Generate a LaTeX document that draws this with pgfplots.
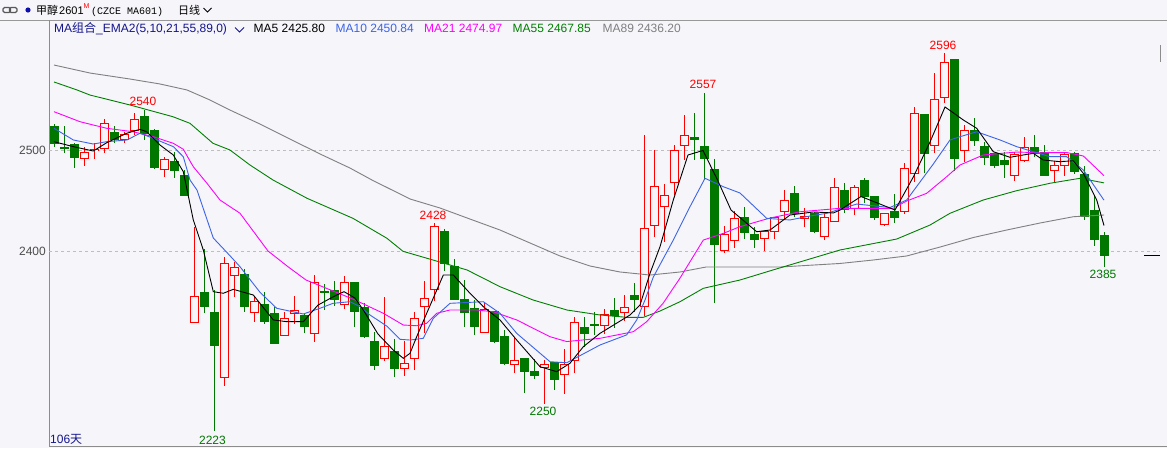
\documentclass[border=0pt]{standalone}
\usepackage{pgfplots}
\pgfplotsset{compat=1.18}
\usepackage{pgfplotstable}
\usepackage{fontspec}
\setmainfont{Liberation Sans}
\newfontfamily\cjk{Noto Sans CJK SC}
\newfontfamily\monof{Liberation Mono}
\newcommand\lbl{\fontsize{12}{14}\selectfont}
\definecolor{bgc}{RGB}{245,245,250}
\definecolor{cred}{RGB}{255,0,0}
\definecolor{cgreen}{RGB}{0,120,0}
\definecolor{ma10c}{RGB}{60,100,230}
\definecolor{ma21c}{RGB}{255,0,255}
\definecolor{ma55c}{RGB}{0,128,0}
\definecolor{ma89c}{RGB}{128,128,128}
\definecolor{navyc}{RGB}{20,20,140}
\definecolor{gridc}{RGB}{190,190,190}
\definecolor{framec}{RGB}{140,140,140}

\pgfplotstableread{
i o h l c
3 2492.1 2503.0 2484.5 2498.3
4 2499.3 2506.9 2491.1 2501.0
5 2502.0 2530.6 2497.0 2526.6
7 2510.2 2517.8 2507.0 2515.8
8 2519.3 2536.5 2515.1 2530.6
11 2481.3 2493.7 2473.4 2491.1
14 2330.4 2424.7 2330.4 2355.6
17 2276.0 2395.0 2267.9 2388.6
18 2376.7 2390.1 2355.6 2384.6
20 2340.2 2355.0 2331.0 2351.1
23 2316.9 2340.8 2316.9 2334.3
24 2338.6 2356.3 2328.7 2341.8
26 2319.5 2377.0 2311.2 2369.8
29 2348.1 2376.0 2343.2 2369.8
33 2294.9 2355.0 2292.5 2307.0
35 2285.0 2312.2 2277.7 2290.0
36 2294.9 2340.8 2283.3 2334.3
37 2345.8 2371.4 2319.5 2354.0
38 2362.9 2428.0 2351.7 2425.3
43 2320.1 2349.7 2319.5 2343.2
46 2288.9 2316.2 2280.7 2293.2
49 2285.6 2293.2 2250.0 2288.9
51 2279.1 2304.0 2259.4 2289.2
52 2292.5 2335.3 2280.7 2330.4
55 2327.4 2343.2 2318.8 2338.3
57 2340.2 2357.3 2332.0 2344.8
59 2345.8 2515.1 2336.6 2423.1
60 2425.3 2500.3 2414.2 2464.8
61 2444.4 2466.8 2409.9 2456.0
62 2468.4 2505.2 2455.9 2500.3
63 2504.9 2534.8 2490.4 2515.1
67 2401.0 2425.6 2399.0 2417.2
68 2410.9 2440.1 2403.4 2432.9
71 2413.2 2420.4 2400.7 2420.4
72 2419.7 2434.5 2412.5 2433.9
73 2439.4 2460.8 2432.0 2451.0
75 2432.9 2442.8 2424.7 2435.2
77 2414.8 2437.9 2411.5 2433.9
78 2429.6 2472.4 2429.6 2463.5
80 2442.8 2465.8 2436.2 2463.5
83 2426.3 2437.9 2425.6 2437.9
85 2439.4 2487.2 2437.2 2482.2
86 2477.3 2543.0 2469.0 2536.5
88 2504.2 2576.0 2497.0 2550.3
89 2552.3 2596.0 2546.4 2586.8
91 2499.6 2525.0 2488.8 2520.0
96 2475.0 2498.6 2470.0 2496.4
97 2489.7 2512.8 2488.2 2503.0
100 2479.9 2489.7 2468.0 2485.5
101 2484.8 2498.6 2475.0 2496.4
}\redtab

\pgfplotstableread{
i o h l c
0 2523.3 2526.0 2503.6 2506.9
1 2502.9 2523.9 2497.6 2501.6
2 2506.2 2507.0 2482.8 2492.7
6 2517.8 2524.0 2506.9 2510.2
9 2533.8 2540.0 2510.2 2516.8
10 2520.0 2521.0 2481.6 2482.8
12 2488.8 2498.6 2472.4 2479.9
13 2475.6 2480.6 2454.9 2455.9
15 2360.0 2402.4 2339.8 2345.8
16 2340.2 2362.2 2223.0 2307.3
19 2378.0 2382.6 2340.8 2345.8
21 2348.4 2360.0 2328.7 2331.0
22 2339.3 2345.8 2309.7 2309.7
25 2336.6 2339.3 2320.1 2326.0
27 2361.2 2368.2 2342.5 2359.6
28 2362.2 2371.1 2346.4 2353.1
30 2369.8 2369.8 2326.0 2340.8
31 2344.8 2349.1 2314.6 2316.2
32 2311.9 2321.1 2283.3 2287.6
34 2302.0 2313.6 2276.0 2284.6
39 2419.7 2422.0 2381.3 2388.6
40 2385.2 2392.5 2352.4 2352.4
41 2352.4 2372.1 2326.0 2339.8
42 2344.2 2352.4 2317.9 2326.0
44 2340.8 2341.5 2310.2 2311.2
45 2316.2 2322.8 2288.3 2290.0
47 2294.9 2294.9 2260.4 2281.7
48 2282.3 2293.9 2274.0 2278.4
50 2290.5 2290.9 2264.0 2274.4
53 2325.0 2335.3 2306.3 2319.5
54 2328.7 2340.8 2317.9 2327.0
56 2342.5 2354.0 2324.5 2337.6
58 2356.6 2368.8 2340.8 2352.4
64 2512.8 2536.5 2490.4 2510.2
65 2504.2 2557.0 2470.7 2492.1
66 2480.6 2491.4 2349.7 2407.3
69 2433.5 2444.4 2412.2 2418.7
70 2416.5 2424.7 2404.0 2412.5
74 2457.6 2465.1 2434.5 2437.9
76 2437.2 2439.4 2418.7 2419.7
79 2460.8 2467.5 2438.5 2441.8
81 2470.7 2473.0 2447.7 2454.9
82 2454.2 2454.2 2431.3 2433.9
84 2439.4 2456.9 2428.0 2433.9
87 2535.8 2535.8 2477.3 2497.0
90 2590.0 2590.0 2479.9 2492.1
92 2520.0 2531.9 2504.2 2509.5
93 2503.6 2508.5 2485.5 2493.1
94 2497.0 2497.0 2482.2 2484.8
95 2490.4 2498.6 2472.4 2486.5
98 2503.0 2515.1 2493.7 2497.0
99 2498.0 2505.2 2475.0 2475.0
102 2497.0 2498.0 2476.6 2478.9
103 2476.6 2484.8 2431.3 2434.5
104 2440.4 2455.9 2405.6 2412.2
105 2415.5 2419.7 2385.0 2396.0
}\greentab

\begin{document}
\begin{tikzpicture}[x=1pt,y=1pt]
\useasboundingbox (0,0) rectangle (1167,448);
\fill[bgc] (0,0) rectangle (1167,448);
\draw[gridc!80!black, line width=0.8pt] (0,428) -- (1167,428);
\draw[framec, line width=1pt] (49,1.5) -- (49,428);
\draw[framec, line width=1pt] (49,1.5) -- (1167,1.5);
\draw[framec, line width=1pt] (1160,386) -- (1160,403);

\begin{axis}[at={(49pt,2pt)}, anchor=south west, width=1111pt, height=426pt,
  scale only axis, xmin=-0.5, xmax=110.6, ymin=2208.4, ymax=2628.5,
  hide axis, clip=false]
\draw[gridc, dash pattern=on 3pt off 3pt, line width=0.8pt] (axis cs:-0.5,2500) -- (axis cs:110.6,2500);
\draw[gridc, dash pattern=on 3pt off 3pt, line width=0.8pt] (axis cs:-0.5,2400) -- (axis cs:110.6,2400);

% red wicks and bodies
\addplot[draw=none, mark=none, forget plot, error bars/.cd, y dir=both, y explicit, error mark=none,
  error bar style={line width=1pt, draw=cred}]
  table[x=i, y expr={(\thisrow{h}+\thisrow{l})/2}, y error expr={(\thisrow{h}-\thisrow{l})/2}] {\redtab};
\addplot[draw=none, mark=none, forget plot, error bars/.cd, y dir=both, y explicit, error mark=none,
  error bar style={line width=9pt, draw=cred}]
  table[x=i, y expr={(\thisrow{o}+\thisrow{c})/2}, y error expr={abs(\thisrow{c}-\thisrow{o})/2+0.3}] {\redtab};
\addplot[draw=none, mark=none, forget plot, error bars/.cd, y dir=both, y explicit, error mark=none,
  error bar style={line width=7pt, draw=bgc}]
  table[x=i, y expr={(\thisrow{o}+\thisrow{c})/2}, y error expr={max(abs(\thisrow{c}-\thisrow{o})/2-0.7,0)}] {\redtab};
% green wicks and bodies
\addplot[draw=none, mark=none, forget plot, error bars/.cd, y dir=both, y explicit, error mark=none,
  error bar style={line width=1pt, draw=cgreen}]
  table[x=i, y expr={(\thisrow{h}+\thisrow{l})/2}, y error expr={(\thisrow{h}-\thisrow{l})/2}] {\greentab};
\addplot[draw=none, mark=none, forget plot, error bars/.cd, y dir=both, y explicit, error mark=none,
  error bar style={line width=9pt, draw=cgreen}]
  table[x=i, y expr={(\thisrow{o}+\thisrow{c})/2}, y error expr={abs(\thisrow{c}-\thisrow{o})/2+0.5}] {\greentab};

% MA89
\addplot[ma89c, line width=0.9pt, mark=none] coordinates {(0,2584.1)(3.6,2576.2)(7.6,2570.3)(10.6,2565.4)(13.3,2559.5)(15.6,2549.6)(17.6,2539.7)(20.6,2525.9)(23.6,2511.1)(26.6,2496.4)(29.6,2482.5)(31.8,2470.7)(35.6,2452)(38.6,2443.1)(41.6,2432.2)(44.6,2421.4)(47.6,2408.6)(50.6,2395.8)(53.6,2385.9)(56.6,2380)(59.6,2377)(62.6,2380)(65.2,2384.9)(72.6,2384.9)(78.6,2388.4)(81.9,2391.8)(85.27,2395.8)(88.6,2404.6)(91.93,2414)(95.27,2421.4)(98.6,2428.3)(101.93,2434.5)(105,2436.2)};
% MA55
\addplot[ma55c, line width=0.9pt, mark=none] coordinates {(0,2567.4)(2.3,2559.5)(3.6,2554.5)(7.6,2544.7)(11.9,2533.1)(13.6,2526.6)(15.9,2506.9)(17.6,2500.3)(19.6,2485.5)(21.9,2470.7)(25.3,2452.7)(29.9,2432.9)(33.3,2413.2)(34.9,2400.4)(37.9,2391.8)(41.3,2382)(44.6,2365.5)(47.9,2352.4)(51.3,2342.5)(54.6,2337.6)(57.27,2335.3)(58.93,2335.3)(60.6,2341.5)(62.6,2350.7)(64.93,2363.9)(68.6,2372.1)(71.9,2382)(78.6,2401.7)(84.27,2412.5)(87.6,2426.3)(89.6,2437.9)(92.93,2451)(96.27,2460.2)(99.6,2467.5)(102.6,2472.4)(105,2467.9)};
% MA21
\addplot[ma21c, line width=0.9pt, mark=none] coordinates {(0,2538.1)(2.6,2528.2)(5.27,2521.7)(7.93,2518.3)(9.93,2513.4)(11.93,2506.9)(12.93,2501)(13.93,2483.8)(15.27,2467.8)(16.6,2451)(18.6,2437.9)(21.4,2400.7)(23.4,2385.2)(25.2,2372.1)(28.27,2359.8)(30.1,2352.4)(32.93,2339.3)(34.93,2327.7)(36.27,2327)(37.27,2329.4)(38.27,2339.3)(39.6,2342.5)(42.27,2342.5)(43.93,2340.8)(46.27,2332.7)(49.6,2316.2)(51.27,2311.4)(54.6,2314.6)(57.93,2321.1)(59.27,2331)(60.93,2349.4)(62.6,2374)(64.93,2411.5)(66.93,2418.1)(68.6,2424.7)(71.6,2433.2)(74.6,2439.4)(78.6,2442.8)(83.9,2442.8)(85.27,2450)(87.27,2457.6)(89.27,2474)(90.6,2485.5)(92.93,2495.4)(96.27,2498.3)(98.6,2497.6)(101.27,2497.8)(102.93,2494.4)(105,2475)};
% MA10
\addplot[ma10c, line width=0.9pt, mark=none] coordinates {(0,2521.7)(1.93,2510.2)(3.93,2506.2)(5.27,2508.5)(7.3,2510.2)(8.6,2516.8)(9.93,2511.8)(11.93,2503.6)(12.93,2493.7)(13.6,2470.7)(14.3,2460.8)(15.93,2413.5)(17.6,2396)(18.6,2385.2)(20.6,2360)(22.27,2344.2)(24.93,2338.6)(26.6,2344.2)(27.9,2349.1)(29.6,2350.7)(30.6,2345.8)(31.6,2337.6)(33.27,2326.7)(34.6,2313.6)(35.6,2312.9)(36.93,2314.6)(37.93,2334.3)(39.6,2349.1)(42.93,2350.7)(44.6,2339.3)(46.27,2319.5)(49.6,2291.5)(51.27,2290.5)(54.6,2308)(57.27,2318)(58.27,2332.7)(59.1,2352.4)(59.93,2375)(61.93,2411.5)(63.6,2444.4)(65.1,2472.4)(66.93,2464.1)(68.6,2457.9)(71.27,2432.9)(73.6,2431.3)(75.6,2435.2)(77.27,2437.9)(80.27,2447)(83.6,2443.6)(85.27,2451)(87.93,2486.5)(89.6,2510.2)(90.6,2513.4)(92.27,2518.3)(94.6,2510.2)(96.27,2503.6)(97.93,2498.6)(99.6,2493.7)(101.27,2493.7)(102.93,2480.6)(105,2450.8)};
% MA5
\addplot[black, line width=0.9pt, mark=none] coordinates {(0,2508.5)(1.93,2503.6)(3.93,2499.3)(5.27,2507.5)(7.27,2516.8)(8.6,2520.7)(9.27,2518.3)(10.6,2505.2)(11.93,2495.4)(12.93,2478.9)(13.93,2431.3)(14.93,2401.7)(15.93,2360.6)(16.93,2359)(17.93,2362.9)(19.93,2357.3)(21.93,2332.7)(23.27,2331)(24.93,2331)(26.4,2347.4)(27.93,2355.6)(29,2360.6)(30.1,2354.3)(30.93,2342.5)(32.4,2318.8)(33.93,2303)(34.93,2294.9)(35.6,2299.8)(36.27,2316.2)(37.27,2339.3)(38.93,2377)(39.93,2377)(41.6,2359)(42.93,2345.8)(44.6,2332.7)(46.27,2312.9)(48.6,2286.6)(50.27,2281.7)(51.6,2290)(52.93,2306.3)(54.6,2319.5)(57.6,2337.6)(58.6,2347.4)(59.6,2378.7)(60.6,2404.9)(61.93,2451)(63.4,2495.4)(64.9,2499.8)(66.4,2469.7)(67.7,2441.1)(70.27,2419.7)(71.6,2421.4)(73.6,2436.2)(75.93,2439.2)(77.93,2438.2)(78.6,2441.1)(80.7,2454.4)(82.6,2447)(84.1,2441.1)(85.93,2473.7)(87.6,2508.2)(89.1,2542.7)(90.1,2535.8)(90.93,2529.9)(92.27,2521.7)(93.93,2498.6)(95.6,2493.1)(96.93,2495.4)(97.93,2497)(98.93,2490.4)(100.6,2488.8)(101.93,2489.7)(102.93,2477.3)(104.27,2451)(105,2425.8)};

% price marker
\draw[black, line width=1pt] (axis cs:109,2396) -- (axis cs:110.6,2396);

% extreme labels
\node[cred, font=\lbl] at (axis cs:8.9,2548.3) {2540};
\node[cgreen, font=\lbl] at (axis cs:15.85,2214.3) {2223};
\node[cred, font=\lbl] at (axis cs:37.9,2435.4) {2428};
\node[cgreen, font=\lbl] at (axis cs:48.9,2242.9) {2250};
\node[cred, font=\lbl] at (axis cs:64.9,2564.7) {2557};
\node[cred, font=\lbl] at (axis cs:88.9,2603.5) {2596};
\node[cgreen, font=\lbl] at (axis cs:104.9,2378) {2385};

% y labels
\node[anchor=east, inner sep=0pt, font=\lbl, text=black!70] at (axis cs:-0.8,2500) {2500};
\node[anchor=east, inner sep=0pt, font=\lbl, text=black!70] at (axis cs:-0.8,2400) {2400};
\end{axis}

% header row 1
\draw[black!65, line width=1.1pt, rounded corners=1.5pt] (3,435.5) rectangle (10.5,440.5);
\draw[black!65, line width=1.1pt, rounded corners=1.5pt] (9.5,435.5) rectangle (17,440.5);
\fill[navyc!70!blue] (28,438) circle (2.6);
\node[anchor=base west, inner sep=0pt, font=\fontsize{11}{13}\selectfont] at (36,433.5) {\cjk 甲醇}; 
\node[anchor=base west, inner sep=0pt, font=\fontsize{11}{13}\selectfont] at (59,433.5) {2601};
\node[anchor=base west, inner sep=0pt, text=cred, font=\fontsize{7}{8}\selectfont] at (83.5,439) {M};
\node[anchor=base west, inner sep=0pt, font=\monof\fontsize{10}{12}\selectfont] at (91,433.5) {(CZCE MA601)};
\node[anchor=base west, inner sep=0pt, font=\fontsize{11}{13}\selectfont] at (178,433.5) {\cjk 日线};
\draw[black, line width=1pt] (203.5,440) -- (207.5,436) -- (211.5,440);

% header row 2 (legend)
\node[anchor=base west, inner sep=0pt, text=navyc, font=\lbl] at (54,415) {MA{\cjk 组合}\_EMA2(5,10,21,55,89,0)};
\draw[navyc, line width=1pt] (235,420.5) -- (239.5,416) -- (244,420.5);
\node[anchor=base west, inner sep=0pt, text=black, font=\lbl] at (253.5,415) {MA5 2425.80};
\node[anchor=base west, inner sep=0pt, text=ma10c, font=\lbl] at (335.5,415) {MA10 2450.84};
\node[anchor=base west, inner sep=0pt, text=ma21c, font=\lbl] at (424,415) {MA21 2474.97};
\node[anchor=base west, inner sep=0pt, text=ma55c, font=\lbl] at (512.5,415) {MA55 2467.85};
\node[anchor=base west, inner sep=0pt, text=ma89c, font=\lbl] at (602.5,415) {MA89 2436.20};

% bottom-left count
\node[anchor=base west, inner sep=0pt, text=navyc, font=\lbl] at (50,5) {106{\cjk 天}};
\end{tikzpicture}
\end{document}
